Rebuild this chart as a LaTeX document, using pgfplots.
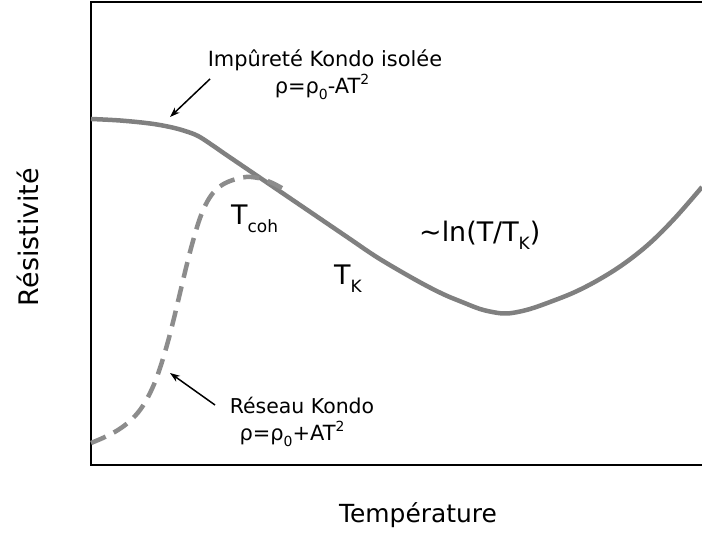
\documentclass[border=0pt]{standalone}
\usepackage{fontspec}
\setmainfont{DejaVu Sans}
\usepackage{pgfplots}
\pgfplotsset{compat=1.18}
\usetikzlibrary{arrows.meta}
\definecolor{curvegray}{RGB}{128,128,128}
\definecolor{dashgray}{RGB}{140,140,140}
\newcommand\fs[1]{\fontsize{#1}{#1}\selectfont}
\newcommand\lowsub[2]{\raisebox{-0.28em}{\fs{#1}#2}}
\newcommand\highsup[2]{\raisebox{0.42em}{\fs{#1}#2}}
\begin{document}
\begin{tikzpicture}[x=1bp,y=1bp]
\path[use as bounding box] (0,0) rectangle (702,537);
\begin{axis}[
  at={(91bp,72bp)}, anchor=south west,
  scale only axis, width=611bp, height=463bp,
  xmin=91, xmax=702, ymin=72, ymax=535,
  hide axis, clip=false,
]
% frame (open on the right)
\draw[line width=2bp, black] (axis cs:702,535) -- (axis cs:91,535) -- (axis cs:91,72) -- (axis cs:702,72);
% isolated Kondo impurity (solid)
\addplot[curvegray, line width=4.5bp, smooth, tension=0.6] coordinates {
(91,418) (120,416.5) (150,413.5) (170,410) (185,406) (198,401) (212,392)
(225,383) (250,366) (275,349) (300,332) (325,315) (350,298) (375,281)
(400,266) (425,252) (445,242) (462,235) (480,228) (495,224.5) (505,223.5)
(515,224.5) (530,228) (550,235) (575,245) (600,258) (625,274) (650,294)
(675,319) (702,350)
};
% Kondo lattice (dashed)
\addplot[dashgray, line width=4.5bp, smooth, tension=0.6, dash pattern=on 16bp off 9bp] coordinates {
(91,94) (105,100) (118,107) (130,116) (140,127) (148,140) (155,155)
(160,169) (165,185) (170,203) (175,223) (180,244) (185,265) (190,285)
(195,303) (200,319) (206,333) (213,344) (222,352) (233,357) (246,360)
(258,359) (270,355) (280,350) (288,345)
};
% arrows
\draw[-{Stealth[length=10bp,width=7bp]}, line width=1.5bp] (axis cs:210,458) -- (axis cs:170,420);
\draw[-{Stealth[length=10bp,width=7bp]}, line width=1.5bp] (axis cs:215,132) -- (axis cs:170,164);
% texts
\node[font=\fs{21}, anchor=center] at (axis cs:325,477) {Impûreté Kondo isolée};
\node[font=\fs{21}, anchor=center] at (axis cs:322,450) {ρ=ρ\lowsub{14}{0}-AT\highsup{14}{2}};
\node[font=\fs{20.5}, anchor=center] at (axis cs:302,132) {Réseau Kondo};
\node[font=\fs{21}, anchor=center] at (axis cs:292,103) {ρ=ρ\lowsub{14}{0}+AT\highsup{14}{2}};
\node[font=\fs{27}, anchor=base west, inner sep=0pt] at (axis cs:231,312) {T\lowsub{17}{coh}};
\node[font=\fs{27}, anchor=base west, inner sep=0pt] at (axis cs:334,252) {T\lowsub{17}{K}};
\node[font=\fs{27}, anchor=base west, inner sep=0pt] at (axis cs:419,295) {\char"007E ln(T/T\lowsub{17}{K})};
\node[font=\fs{25}, anchor=base, inner sep=0pt] at (axis cs:418,14) {Température};
\node[font=\fs{27}, rotate=90, anchor=center, inner sep=0pt] at (axis cs:28,300) {Résistivité};
\end{axis}
\end{tikzpicture}
\end{document}
